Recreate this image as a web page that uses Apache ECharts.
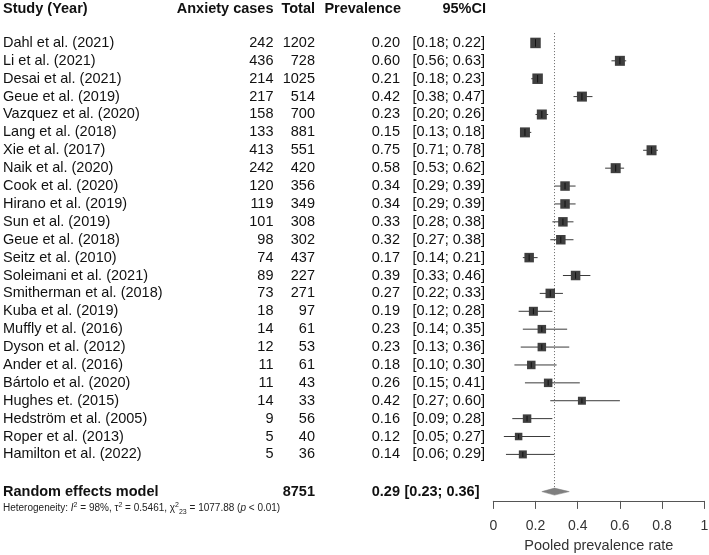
<!DOCTYPE html>
<html>
<head>
<meta charset="utf-8">
<script src="https://cdn.jsdelivr.net/npm/echarts@6/dist/echarts.min.js"></script>
<style>
html,body{margin:0;padding:0;background:#fff;}
#chart{width:709px;height:555px;}
</style>
</head>
<body>
<div id="chart"></div>
<script>
// ---------- data ----------
const studies = ["Dahl et al. (2021)","Li et al. (2021)","Desai et al. (2021)","Geue et al. (2019)","Vazquez et al. (2020)","Lang et al. (2018)","Xie et al. (2017)","Naik et al. (2020)","Cook et al. (2020)","Hirano et al. (2019)","Sun et al. (2019)","Geue et al. (2018)","Seitz et al. (2010)","Soleimani et al. (2021)","Smitherman et al. (2018)","Kuba et al. (2019)","Muffly et al. (2016)","Dyson et al. (2012)","Ander et al. (2016)","Bártolo et al. (2020)","Hughes et. (2015)","Hedström et al. (2005)","Roper et al. (2013)","Hamilton et al. (2022)"];
const cases = [242,436,214,217,158,133,413,242,120,119,101,98,74,89,73,18,14,12,11,11,14,9,5,5];
const totals = [1202,728,1025,514,700,881,551,420,356,349,308,302,437,227,271,97,61,53,61,43,33,56,40,36];
const prevalence = [0.20,0.60,0.21,0.42,0.23,0.15,0.75,0.58,0.34,0.34,0.33,0.32,0.17,0.39,0.27,0.19,0.23,0.23,0.18,0.26,0.42,0.16,0.12,0.14];
const ciLower = [0.18,0.56,0.18,0.38,0.20,0.13,0.71,0.53,0.29,0.29,0.28,0.27,0.14,0.33,0.22,0.12,0.14,0.13,0.10,0.15,0.27,0.09,0.05,0.06];
const ciUpper = [0.22,0.63,0.23,0.47,0.26,0.18,0.78,0.62,0.39,0.39,0.38,0.38,0.21,0.46,0.33,0.28,0.35,0.36,0.30,0.41,0.60,0.28,0.27,0.29];
const boxSizes = [10.5,10,10.5,10,10,10,10,10,9.5,9.5,9.5,9.5,9.5,9.5,9.5,9,8.5,8.5,8.5,8.5,8,8.5,7.5,8];
const headers = ["Study (Year)","Anxiety cases","Total","Prevalence","95%CI"];
const pooledLabel = "Random effects model";
const pooledTotal = 8751;
const pooledEst = 0.29, pooledLower = 0.23, pooledUpper = 0.36;
const hetI2 = "98%", hetTau2 = "0.5461", hetDf = "23", hetQ = "1077.88", hetP = "< 0.01";
const xAxisTitle = "Pooled prevalence rate";

// ---------- layout ----------
const FONT = '"Liberation Sans", Arial, sans-serif';
const FS = 14.5;
const BASE = 25.6;                     // y value = BASE - row index; the x axis sits at y = 0
const rowY = r => BASE - r;
const ROW_HEADER = -1.9, ROW_POOLED = 25.08, ROW_HET = 26.0;
const COL = {study:3, cases:273.5, total:315, prev:400, ci:485};
const ciText = (l,u) => '[' + l.toFixed(2) + '; ' + u.toFixed(2) + ']';

function txt(x, y, text, align, bold, size){
  return {type:'text', x:x, y:y, style:{text:text, align:align, verticalAlign:'middle',
    fill:'#111', fontFamily:FONT, fontSize:size||FS, fontWeight:bold?'bold':'normal'}};
}

const chart = echarts.init(document.getElementById('chart'), null, {renderer:'canvas'});
const option = {
  animation:false,
  backgroundColor:'#fff',
  grid:{left:493.3, right:4.7, top:0, bottom:48, containLabel:false, outerBoundsMode:'none'},
  xAxis:{type:'value', min:0, max:1, interval:0.2,
    axisLine:{show:true, onZero:true, lineStyle:{color:'#555', width:1}},
    axisTick:{show:true, length:8, lineStyle:{color:'#555', width:1}},
    axisLabel:{fontSize:14, color:'#333', fontFamily:FONT, margin:12},
    splitLine:{show:false},
    name:xAxisTitle, nameLocation:'middle', nameGap:31,
    nameTextStyle:{fontSize:14.5, color:'#333', fontFamily:FONT}},
  yAxis:{type:'value', min:-0.34, max:rowY(-2.4), show:false},
  series:[
    { // reference dotted line at pooled estimate
      type:'line', z:1, symbol:'none', silent:true,
      data:[[pooledEst,rowY(-0.55)],[pooledEst,rowY(ROW_POOLED)]],
      lineStyle:{color:'#666', width:1, type:[1,2]}
    },
    { // study CIs and boxes
      type:'custom', z:3,
      data: studies.map((s,i)=>[prevalence[i], ciLower[i], ciUpper[i], rowY(i), boxSizes[i]]),
      encode:{x:[0,1,2], y:3},
      renderItem:function(params, api){
        const r = api.value(3);
        const c = api.coord([api.value(0), r]);
        const l = api.coord([api.value(1), r]);
        const h = api.coord([api.value(2), r]);
        const s = api.value(4);
        return {type:'group', children:[
          {type:'line', shape:{x1:l[0], y1:c[1], x2:h[0], y2:c[1]}, style:{stroke:'#3a3a3a', lineWidth:1}},
          {type:'rect', shape:{x:c[0]-s/2, y:c[1]-s/2, width:s, height:s}, style:{fill:'#3f3f3f'}},
          {type:'line', shape:{x1:c[0], y1:c[1]-s/2+1.5, x2:c[0], y2:c[1]+s/2-1.5}, style:{stroke:'#111', lineWidth:1}}
        ]};
      }
    },
    { // pooled diamond
      type:'custom', z:3,
      data:[[pooledEst, pooledLower, pooledUpper, rowY(ROW_POOLED)]],
      encode:{x:[0,1,2], y:3},
      renderItem:function(params, api){
        const r = api.value(3);
        const c = api.coord([api.value(0), r]);
        const l = api.coord([api.value(1), r]);
        const h = api.coord([api.value(2), r]);
        const hh = 3.5;
        return {type:'polygon', shape:{points:[[l[0],c[1]],[c[0],c[1]-hh],[h[0],c[1]],[c[0],c[1]+hh]]},
          style:{fill:'#7f7f7f', stroke:'#7f7f7f', lineWidth:0.5}};
      }
    },
    { // header row
      type:'custom', z:5, silent:true,
      data:[[0, rowY(ROW_HEADER)]], encode:{x:0, y:1},
      renderItem:function(params, api){
        const y = api.coord([0, api.value(1)])[1];
        return {type:'group', children:[
          txt(COL.study, y, headers[0], 'left', true),
          txt(COL.cases, y, headers[1], 'right', true),
          txt(COL.total, y, headers[2], 'right', true),
          txt(COL.prev+1, y, headers[3], 'right', true),
          txt(COL.ci+1, y, headers[4], 'right', true)
        ]};
      }
    },
    { // study rows
      type:'custom', z:5, silent:true,
      data: studies.map((s,i)=>[0,rowY(i)]), encode:{x:0, y:1},
      renderItem:function(params, api){
        const i = params.dataIndex;
        const y = api.coord([0, api.value(1)])[1];
        return {type:'group', children:[
          txt(COL.study, y, studies[i], 'left', false),
          txt(COL.cases, y, String(cases[i]), 'right', false),
          txt(COL.total, y, String(totals[i]), 'right', false),
          txt(COL.prev, y, prevalence[i].toFixed(2), 'right', false),
          txt(COL.ci, y, ciText(ciLower[i], ciUpper[i]), 'right', false)
        ]};
      }
    },
    { // pooled row
      type:'custom', z:5, silent:true,
      data:[[0, rowY(ROW_POOLED)]], encode:{x:0, y:1},
      renderItem:function(params, api){
        const y = api.coord([0, api.value(1)])[1];
        return {type:'group', children:[
          txt(COL.study, y, pooledLabel, 'left', true),
          txt(COL.total, y, String(pooledTotal), 'right', true),
          txt(COL.prev, y, pooledEst.toFixed(2), 'right', true),
          txt(COL.prev+4.5, y, ciText(pooledLower, pooledUpper), 'left', true)
        ]};
      }
    },
    { // heterogeneity line
      type:'custom', z:5, silent:true,
      data:[[0, rowY(ROW_HET)]], encode:{x:0, y:1},
      renderItem:function(params, api){
        const y = api.coord([0, api.value(1)])[1];
        const t = '{n|Heterogeneity: }{i|I}{sup|2}{n| = ' + hetI2 + ', \u03c4}{sup|2}{n| = ' + hetTau2 +
                  ', \u03c7}{sup|2}{sub|' + hetDf + '}{n| = ' + hetQ + ' (}{i|p}{n| ' + hetP + ')}';
        return {type:'text', x:COL.study, y:y, style:{text:t, align:'left', verticalAlign:'middle',
          fill:'#222', fontFamily:FONT, fontSize:10,
          rich:{
            n:{fontSize:10, fontFamily:FONT, fill:'#222', lineHeight:14},
            i:{fontSize:10, fontFamily:FONT, fill:'#222', fontStyle:'italic', lineHeight:14},
            sup:{fontSize:7, fontFamily:FONT, fill:'#222', verticalAlign:'top', lineHeight:8},
            sub:{fontSize:7, fontFamily:FONT, fill:'#222', verticalAlign:'bottom', lineHeight:8}
          }}};
      }
    }
  ]
};
chart.setOption(option);
</script>
</body>
</html>
